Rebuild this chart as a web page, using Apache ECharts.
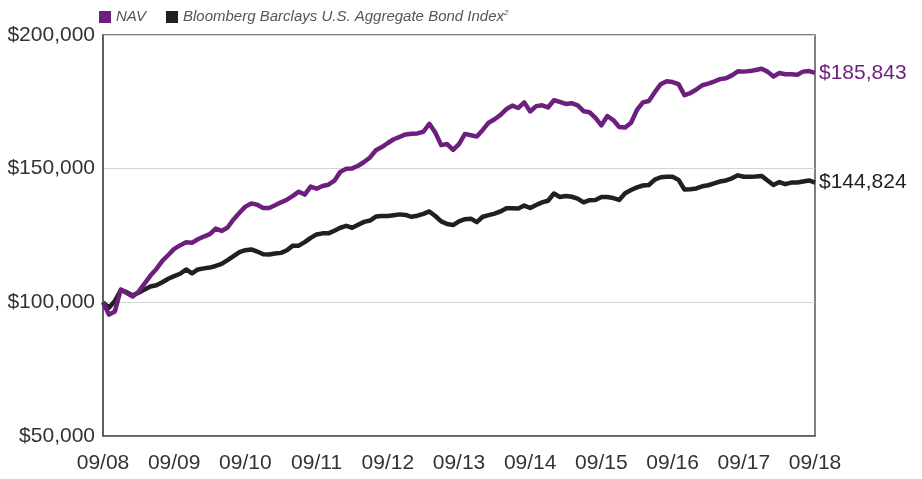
<!DOCTYPE html>
<html>
<head>
<meta charset="utf-8">
<script src="https://cdn.jsdelivr.net/npm/echarts@6/dist/echarts.min.js"></script>
<style>
html,body{margin:0;padding:0;background:#fff;}
#chart{width:922px;height:479px;}
</style>
</head>
<body>
<div id="chart"></div>
<script>
// Tick labels on the x axis (one per year, September)
var tickLabels = ['09/08','09/09','09/10','09/11','09/12','09/13','09/14','09/15','09/16','09/17','09/18'];

// Monthly categories 09/08 .. 09/18 (121 months)
var categories = [];
(function(){
  var m = 9, y = 8;
  for (var i = 0; i <= 120; i++) {
    categories.push((m < 10 ? '0' + m : '' + m) + '/' + (y < 10 ? '0' + y : '' + y));
    m++; if (m > 12) { m = 1; y++; }
  }
})();

// NAV growth of $100,000 (thousands of $)
var navValues = [
100.0,95.4,96.6,104.8,103.5,102.2,104.0,107.0,110.0,112.5,
115.5,117.7,120.0,121.3,122.5,122.3,123.6,124.6,125.5,127.6,
126.7,128.0,131.0,133.5,135.8,137.0,136.5,135.3,135.3,136.3,
137.4,138.4,139.8,141.4,140.3,143.3,142.5,143.5,144.0,145.5,
148.8,150.0,150.1,151.1,152.5,154.2,156.9,158.1,159.6,161.0,
161.9,162.8,163.1,163.2,163.8,166.8,163.5,158.8,159.2,157.0,
159.2,163.0,162.5,162.0,164.5,167.2,168.5,170.1,172.3,173.6,
172.7,174.8,171.4,173.4,173.7,172.9,175.6,175.0,174.2,174.5,
173.7,171.5,171.1,169.0,166.2,169.7,168.2,165.6,165.4,167.2,
172.0,174.8,175.3,178.6,181.6,182.7,182.4,181.6,177.5,178.3,
179.6,181.2,181.8,182.6,183.5,183.8,184.9,186.4,186.3,186.5,
186.9,187.4,186.3,184.5,185.8,185.3,185.3,185.1,186.3,186.5,
185.843
];

// Bloomberg Barclays U.S. Aggregate Bond Index growth of $100,000 (thousands of $)
var indexValues = [
100.0,98.0,100.5,104.6,103.8,102.6,103.6,104.8,105.9,106.4,
107.5,108.8,109.8,110.7,112.3,110.8,112.3,112.7,113.0,113.6,
114.4,115.8,117.3,118.8,119.5,119.8,119.0,118.0,117.9,118.3,
118.5,119.5,121.2,121.2,122.5,124.1,125.4,125.8,125.8,126.8,
127.9,128.6,127.9,129.0,130.1,130.6,132.1,132.3,132.3,132.6,
132.9,132.7,132.0,132.4,133.1,134.0,132.3,130.3,129.3,128.9,
130.3,131.1,131.3,130.0,132.0,132.6,133.2,134.0,135.2,135.2,
135.1,136.2,135.3,136.4,137.4,138.0,140.7,139.4,139.8,139.5,
138.8,137.4,138.2,138.3,139.4,139.4,139.0,138.3,140.8,142.0,
143.0,143.7,143.9,145.9,146.8,147.0,147.0,145.8,142.2,142.3,
142.6,143.4,143.8,144.5,145.2,145.6,146.4,147.5,147.0,147.0,
147.1,147.3,145.6,143.9,145.0,144.2,144.8,144.8,145.2,145.6,
144.824
];

var seriesNames = ['NAV', 'Bloomberg Barclays U.S. Aggregate Bond Index'];
var seriesColors = ['#6d1f7e', '#231f20'];

function money(v) {
  return '$' + Math.round(v).toString().replace(/\B(?=(\d{3})+(?!\d))/g, ',');
}

var chart = echarts.init(document.getElementById('chart'), null, {renderer: 'canvas'});

function toDollars(arr) { return arr.map(function(v){ return v * 1000; }); }

var axisFont = 'Liberation Sans';
var legendFont = 'Liberation Sans Narrow, Liberation Sans, sans-serif';

chart.setOption({
  animation: false,
  backgroundColor: '#fff',
  legend: {
    left: 94,
    top: 4,
    itemWidth: 12,
    itemHeight: 12,
    itemGap: 20,
    icon: 'rect',
    data: seriesNames,
    formatter: function(name){
      return name === seriesNames[1] ? name + '{sup|2}' : name;
    },
    textStyle: {
      fontFamily: legendFont,
      fontStyle: 'italic',
      fontSize: 15,
      color: '#555',
      rich: {
        sup: {fontSize: 8, verticalAlign: 'top', padding: [0,0,8,0], fontStyle: 'italic', color: '#555', fontFamily: legendFont}
      }
    }
  },
  grid: {
    left: 103, right: 107, top: 35, bottom: 43,
    show: true,
    borderColor: '#555',
    borderWidth: 1.5
  },
  xAxis: {
    type: 'category',
    data: categories,
    boundaryGap: false,
    axisLine: {show: true, lineStyle: {color: '#555', width: 1.5}},
    axisTick: {show: false},
    splitLine: {show: false},
    axisLabel: {
      interval: function(idx, val){ return tickLabels.indexOf(val) >= 0 && idx % 12 === 0; },
      color: '#333',
      fontFamily: axisFont,
      fontSize: 21,
      margin: 17,
      showMaxLabel: true
    }
  },
  yAxis: {
    type: 'value',
    min: 50000,
    max: 200000,
    interval: 50000,
    axisLine: {show: true, lineStyle: {color: '#555', width: 1.5}},
    axisTick: {show: false},
    splitLine: {show: true, lineStyle: {color: '#d4d4d4', width: 1.2}},
    axisLabel: {
      formatter: function(v){ return money(v); },
      color: '#333',
      fontFamily: axisFont,
      fontSize: 21,
      margin: 8
    }
  },
  series: [
    {
      name: seriesNames[1],
      type: 'line',
      data: toDollars(indexValues),
      symbol: 'none',
      lineStyle: {color: seriesColors[1], width: 4.5, join: 'round'},
      itemStyle: {color: seriesColors[1]},
      z: 2,
      endLabel: {
        show: true,
        formatter: function(p){ return money(p.value); },
        color: seriesColors[1],
        fontFamily: axisFont,
        fontSize: 21,
        distance: 4
      }
    },
    {
      name: seriesNames[0],
      type: 'line',
      data: toDollars(navValues),
      symbol: 'none',
      lineStyle: {color: seriesColors[0], width: 4.5, join: 'round'},
      itemStyle: {color: seriesColors[0]},
      z: 3,
      endLabel: {
        show: true,
        formatter: function(p){ return money(p.value); },
        color: seriesColors[0],
        fontFamily: axisFont,
        fontSize: 21,
        distance: 4
      }
    }
  ]
});
</script>
</body>
</html>
